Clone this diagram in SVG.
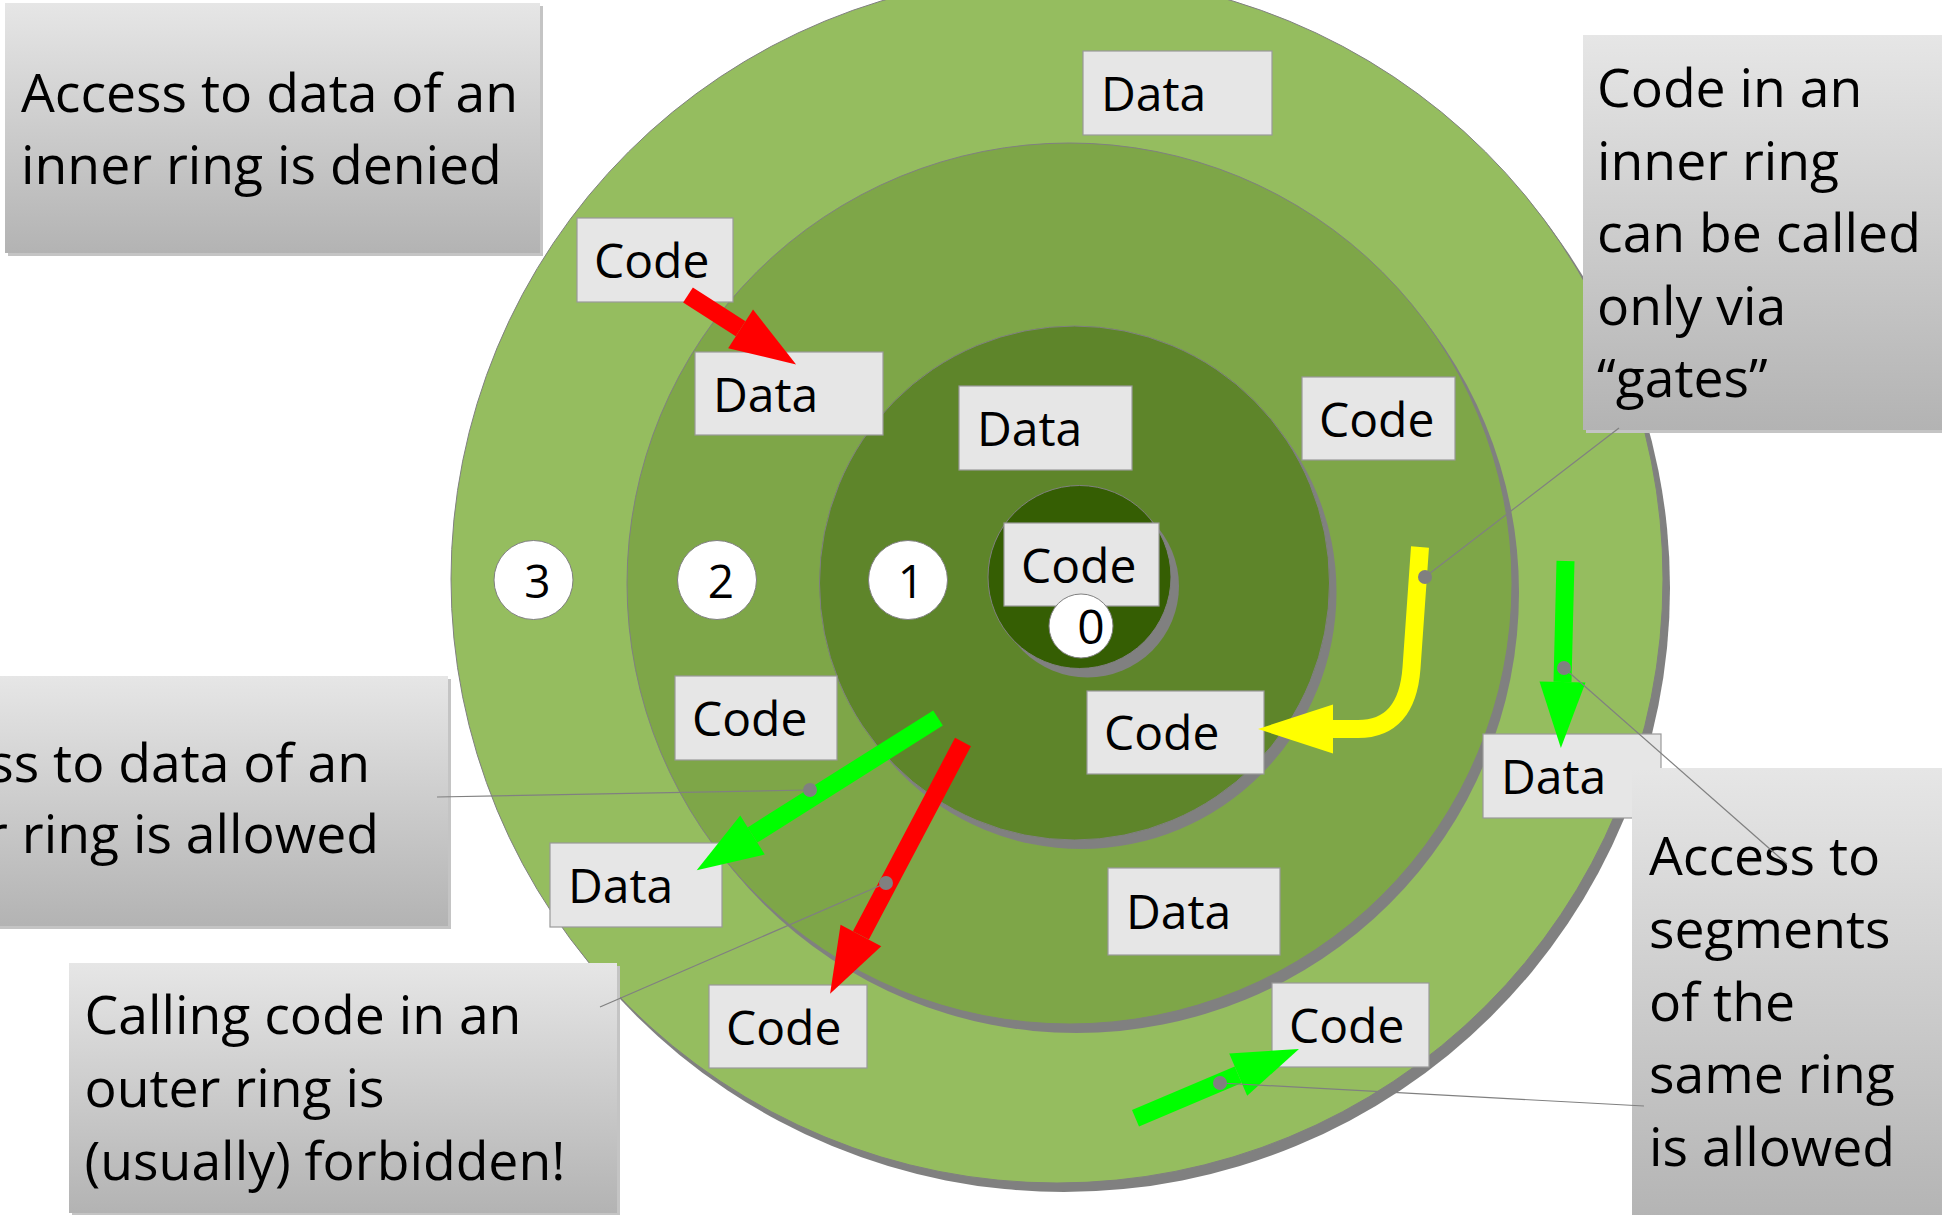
<svg xmlns="http://www.w3.org/2000/svg" width="1942" height="1215" viewBox="0 0 1942 1215">
<style>
  .shadow { fill: #808080; }
  .ring { stroke: #808080; stroke-width: 1; }
  .r3 { fill: #95bd5f; }
  .r2 { fill: #7ea648; }
  .r1 { fill: #5e852a; }
  .r0 { fill: #355e03; }
  .num { fill: #ffffff; stroke: #808080; stroke-width: 1; }
  .numt { font-family: "Open Sans", "Noto Sans", sans-serif; font-size: 46px; fill: #000; text-anchor: middle; }
  .box { fill: #e6e6e6; stroke: #999999; stroke-width: 1.2; }
  .boxt { font-family: "Open Sans", "Noto Sans", sans-serif; font-size: 48px; fill: #000; }
  .call { fill: url(#cg); }
  .cshadow { fill: #c4c4c4; }
  .callt { font-family: "Open Sans", "Noto Sans", sans-serif; font-size: 53.5px; fill: #000; }
  .shaft { fill: none; stroke-width: 18; stroke-linecap: butt; }
  .red { stroke: #ff0000; marker-end: url(#hr); }
  .green { stroke: #00ff00; marker-end: url(#hg); }
  .yellow { stroke: #ffff00; marker-end: url(#hy); }
  .lead { fill: none; stroke: #808080; stroke-width: 1.2; }
  .dot { fill: #808080; }
</style>
<defs>
  <linearGradient id="cg" x1="0" y1="0" x2="0" y2="1">
    <stop offset="0" stop-color="#e6e6e6"/>
    <stop offset="1" stop-color="#b3b3b3"/>
  </linearGradient>
  <marker id="hr" markerUnits="userSpaceOnUse" markerWidth="70" markerHeight="50" refX="0" refY="23" orient="auto" overflow="visible">
    <path d="M0,0 L66,23 L0,46 Z" fill="#ff0000"/>
  </marker>
  <marker id="hg" markerUnits="userSpaceOnUse" markerWidth="70" markerHeight="50" refX="0" refY="23" orient="auto" overflow="visible">
    <path d="M0,0 L66,23 L0,46 Z" fill="#00ff00"/>
  </marker>
  <marker id="hy" markerUnits="userSpaceOnUse" markerWidth="80" markerHeight="52" refX="0" refY="24.5" orient="auto" overflow="visible">
    <path d="M0,0 L75,24.5 L0,49 Z" fill="#ffff00"/>
  </marker>
</defs>

<g id="rings">
  <g id="ring3">
    <ellipse class="shadow" cx="1064" cy="588" rx="606" ry="604"/>
    <ellipse class="ring r3" cx="1057" cy="579" rx="606" ry="604"/>
  </g>
  <g id="ring2">
    <ellipse class="shadow" cx="1076.5" cy="592.5" rx="442.5" ry="440.5"/>
    <ellipse class="ring r2" cx="1069.5" cy="583.5" rx="442.5" ry="440.5"/>
  </g>
  <g id="ring1">
    <ellipse class="shadow" cx="1081.5" cy="592" rx="255" ry="257"/>
    <ellipse class="ring r1" cx="1074.5" cy="583" rx="255" ry="257"/>
  </g>
  <g id="ring0">
    <ellipse class="shadow" cx="1087.5" cy="586" rx="91.5" ry="91.5"/>
    <ellipse class="ring r0" cx="1079.5" cy="577" rx="91.5" ry="91.5"/>
  </g>
</g>

<g id="label3"><circle class="num" cx="533.5" cy="580" r="39.5"/><text class="numt" x="537.5" y="598">3</text></g>
<g id="label2"><circle class="num" cx="717" cy="580" r="39.5"/><text class="numt" x="721" y="598">2</text></g>
<g id="label1"><circle class="num" cx="908" cy="580" r="39.5"/><text class="numt" x="911" y="598">1</text></g>

<g id="data-r3-top"><rect class="box" x="1083" y="51" width="189" height="84"/><text class="boxt" x="1101" y="111">Data</text></g>
<g id="code-r3-ul"><rect class="box" x="577" y="218" width="156" height="84"/><text class="boxt" x="594" y="278">Code</text></g>
<g id="data-r2-ul"><rect class="box" x="695" y="352" width="188" height="83"/><text class="boxt" x="713" y="412">Data</text></g>
<g id="data-r1-top"><rect class="box" x="959" y="386" width="173" height="84"/><text class="boxt" x="977" y="446">Data</text></g>
<g id="code-r2-right"><rect class="box" x="1302" y="377" width="153" height="83"/><text class="boxt" x="1319" y="437">Code</text></g>
<g id="code-r0"><rect class="box" x="1004" y="523" width="155" height="83"/><text class="boxt" x="1021" y="583">Code</text></g>
<g id="label0"><circle class="num" cx="1081" cy="626" r="32"/><text class="numt" x="1091" y="644" style="font-size:48px">0</text></g>
<g id="code-r2-ll"><rect class="box" x="675" y="676" width="162" height="84"/><text class="boxt" x="692" y="736">Code</text></g>
<g id="data-r3-left"><rect class="box" x="550" y="843" width="172" height="84"/><text class="boxt" x="568" y="903">Data</text></g>
<g id="code-r3-bl"><rect class="box" x="709" y="985" width="158" height="83"/><text class="boxt" x="726" y="1045">Code</text></g>
<g id="code-r1-lr"><rect class="box" x="1087" y="691" width="177" height="83"/><text class="boxt" x="1104" y="750">Code</text></g>
<g id="data-r2-bottom"><rect class="box" x="1108" y="868" width="172" height="87"/><text class="boxt" x="1126" y="929">Data</text></g>
<g id="code-r3-br"><rect class="box" x="1272" y="983" width="157" height="84"/><text class="boxt" x="1289" y="1043">Code</text></g>
<g id="data-r3-right"><rect class="box" x="1483" y="734" width="178" height="84"/><text class="boxt" x="1501" y="794">Data</text></g>

<g id="connectors">
  <path class="shaft red" d="M688,295 L740.6,328.8"/>
  <path class="shaft red" d="M963,742 L860.9,935.4"/>
  <path class="shaft green" d="M938,718 L752.5,835"/>
  <path class="shaft green" d="M1565.5,561 L1562.5,682"/>
  <path class="shaft green" d="M1135.5,1118.3 L1238.2,1074.7"/>
  <path class="shaft yellow" d="M1420,547 L1411.5,668 Q1407,729 1358,729 L1333,729"/>
</g>

<g id="callout-denied">
  <rect class="cshadow" x="8" y="6" width="535" height="250"/>
  <rect class="call" x="5" y="3" width="535" height="250"/>
  <text class="callt" x="21" y="112">Access to data of an</text>
  <text class="callt" x="21" y="184">inner ring is denied</text>
</g>
<g id="callout-gates">
  <rect class="cshadow" x="1586" y="38" width="370" height="395"/>
  <rect class="call" x="1583" y="35" width="370" height="395"/>
  <text class="callt" x="1597" y="107">Code in an</text>
  <text class="callt" x="1597" y="180">inner ring</text>
  <text class="callt" x="1597" y="252">can be called</text>
  <text class="callt" x="1597" y="325">only via</text>
  <text class="callt" x="1597" y="397">“gates”</text>
</g>
<g id="callout-allowed">
  <rect class="cshadow" x="-7" y="679" width="458" height="250"/>
  <rect class="call" x="-10" y="676" width="458" height="250"/>
  <text class="callt" x="370" y="782" text-anchor="end">ss to data of an</text>
  <text class="callt" x="379" y="853" text-anchor="end">r ring is allowed</text>
</g>
<g id="callout-forbidden">
  <rect class="cshadow" x="72" y="966" width="548" height="250"/>
  <rect class="call" x="69" y="963" width="548" height="250"/>
  <text class="callt" x="84.5" y="1034">Calling code in an</text>
  <text class="callt" x="84.5" y="1107">outer ring is</text>
  <text class="callt" x="84.5" y="1180">(usually) forbidden!</text>
</g>
<g id="callout-same">
  <rect class="call" x="1632" y="768" width="320" height="460"/>
  <text class="callt" x="1649" y="875">Access to</text>
  <text class="callt" x="1649" y="948">segments</text>
  <text class="callt" x="1649" y="1021">of the</text>
  <text class="callt" x="1649" y="1093">same ring</text>
  <text class="callt" x="1649" y="1166">is allowed</text>
</g>

<g id="leaders">
  <path class="lead" d="M1619,428 L1425,577"/>
  <path class="lead" d="M1564,668 L1787,864"/>
  <path class="lead" d="M1220,1083 L1644,1106"/>
  <path class="lead" d="M437,797 L810,790"/>
  <path class="lead" d="M600,1007 L886,883"/>
  <circle class="dot" cx="1425" cy="577" r="7"/>
  <circle class="dot" cx="1564" cy="668" r="7"/>
  <circle class="dot" cx="1220" cy="1083" r="7"/>
  <circle class="dot" cx="810" cy="790" r="7"/>
  <circle class="dot" cx="886" cy="883" r="7"/>
</g>
</svg>
